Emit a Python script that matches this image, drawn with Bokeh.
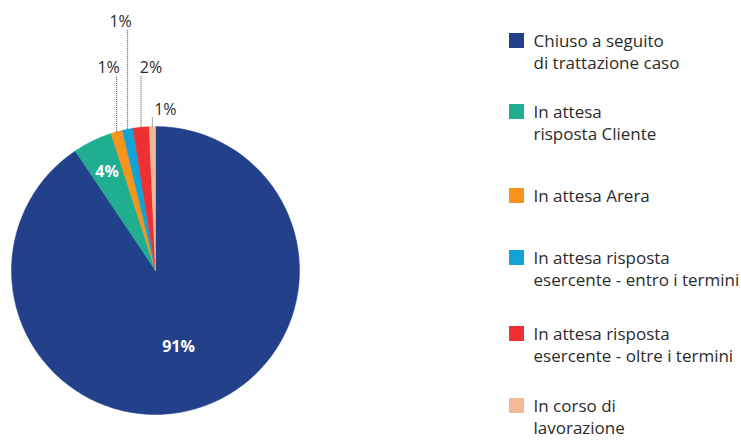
import math
from bokeh.plotting import figure
from bokeh.models import Range1d
from bokeh.core.properties import value
from bokeh.embed import file_html
from bokeh.resources import INLINE

# ---- data ----
categories = [
    "Chiuso a seguito\ndi trattazione caso",
    "In attesa\nrisposta Cliente",
    "In attesa Arera",
    "In attesa risposta\nesercente - entro i termini",
    "In attesa risposta\nesercente - oltre i termini",
    "In corso di\nlavorazione",
]
shares = [90.6, 4.4, 1.3, 1.2, 1.8, 0.7]
pct_labels = ["91%", "4%", "1%", "1%", "2%", "1%"]
colors = ["#23418b", "#1fae8f", "#f7941d", "#12a3d6", "#ee2f33", "#f3b994"]

# ---- layout (pixel-space) ----
W, H = 741, 440
cx, cy, R = 155, -270, 144
inside = [True, True, False, False, False, False]
inside_dist = [0.55, 0.77, 0, 0, 0, 0]
outside_label_y = [0, 0, -66, -20, -66, -108]
outside_label_dx = [0, 0, -8, -7, 10, 13]
legend_x = 509
legend_y = [-40, -111, -195, -257, -333, -405]
FONT = "Open Sans"
TXT = "#2b2b2b"

p = figure(width=W, height=H, output_backend="svg", toolbar_location=None,
           x_range=Range1d(0, W), y_range=Range1d(-H, 0),
           x_axis_type=None, y_axis_type=None, min_border=0)
p.grid.visible = False
p.outline_line_color = None

total = sum(shares)
cum = 0.0
starts, ends, mids = [], [], []
for s in shares:
    a0 = math.pi / 2 - 2 * math.pi * cum / total
    cum += s
    a1 = math.pi / 2 - 2 * math.pi * cum / total
    starts.append(a0); ends.append(a1); mids.append((a0 + a1) / 2)

p.wedge(x=[cx] * len(shares), y=[cy] * len(shares), radius=R,
        start_angle=starts, end_angle=ends, direction="clock",
        fill_color=colors, line_color=colors, line_width=0.5)

for i, lab in enumerate(pct_labels):
    m = mids[i]
    if inside[i]:
        d = R * inside_dist[i]
        p.text(x=[cx + d * math.cos(m)], y=[cy + d * math.sin(m)], text=[lab],
               text_font=value(FONT), text_font_style="bold", text_font_size="16px",
               text_color="white", text_align="center", text_baseline="middle")
    else:
        x0 = cx + R * math.cos(m)
        y0 = cy + R * math.sin(m)
        ytop = outside_label_y[i] - 9
        p.line(x=[x0, x0], y=[y0, ytop], line_color="#444444", line_width=1,
               line_dash="1 1")
        p.text(x=[x0 + outside_label_dx[i]], y=[outside_label_y[i]], text=[lab],
               text_font=value(FONT), text_font_size="16px", text_color=TXT,
               text_align="center", text_baseline="middle")

# legend
for i, cat in enumerate(categories):
    p.rect(x=[legend_x + 7], y=[legend_y[i]], width=15, height=15,
           fill_color=colors[i], line_color=None)
    for j, line in enumerate(cat.split("\n")):
        p.text(x=[533], y=[legend_y[i] - 22 * j], text=[line],
               text_font=value(FONT), text_font_size="17px", text_color=TXT,
               text_align="left", text_baseline="middle")

open("out.html", "w").write(file_html(p, INLINE))
